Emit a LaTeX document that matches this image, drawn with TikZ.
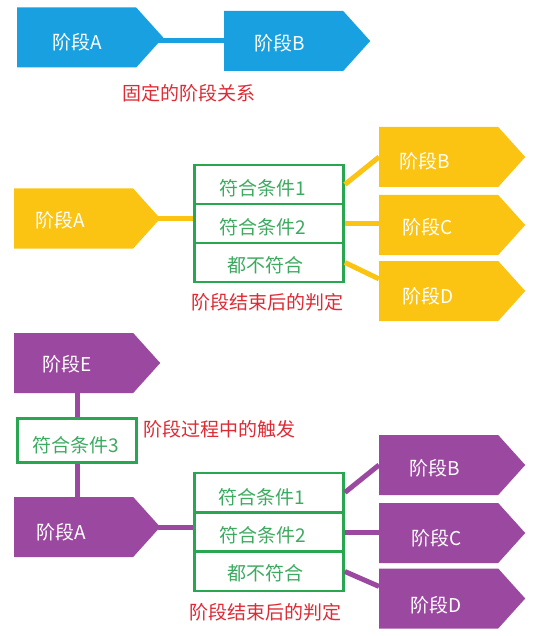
\documentclass[tikz,border=0pt]{standalone}
\usepackage{fontspec}
\setmainfont{Noto Sans CJK SC}
\usetikzlibrary{shapes.symbols,calc}
\definecolor{cblue}{RGB}{24,160,224}
\definecolor{cyellow}{RGB}{251,195,18}
\definecolor{cpurple}{RGB}{155,72,160}
\definecolor{cgreen}{RGB}{40,166,80}
\definecolor{cgreentxt}{RGB}{60,170,95}
\definecolor{cred}{RGB}{222,42,52}
\begin{document}
\begin{tikzpicture}[x=1pt,y=-1pt,
  stage/.style={signal, signal to=east, signal from=nowhere, signal pointer angle=96,
    minimum width=146pt, minimum height=60pt, inner sep=0pt, draw=none, fill=#1, anchor=west},
  stxt/.style={text=white, font=\fontsize{19}{22}\selectfont, inner sep=0pt},
  cond/.style={draw=cgreen, line width=2.7pt, minimum width=149pt, minimum height=39pt, inner sep=0pt},
  ctxt/.style={text=cgreentxt, font=\fontsize{19}{22}\selectfont, inner sep=0pt},
  note/.style={text=cred, font=\fontsize{19}{22}\selectfont, inner sep=0pt},
  link/.style={line width=5pt, draw=#1},
]
\useasboundingbox (0,0) rectangle (544,636);

% ---------- section 1 (blue) ----------
\node[stage=cblue] (bA) at (17,37.5) {};
\node[stage=cblue] (bB) at (224,41) {};
\node[stxt] (bAt) at (77,42) {阶段A};
\node[stxt] (bBt) at (280,43) {阶段B};
\draw[link=cblue] ([xshift=-6pt]bA.east |- bB.west) -- (bB.west);
\node[note] (n1) at (189,93) {固定的阶段关系};

% ---------- section 2 (yellow) ----------
\node[stage=cyellow] (yA) at (14,218.5) {};
\node[stage=cyellow] (yB) at (379,157) {};
\node[stage=cyellow] (yC) at (379,225) {};
\node[stage=cyellow] (yD) at (379,291) {};
\node[stxt] (yAt) at (60,220) {阶段A};
\node[stxt] (yBt) at (425,161) {阶段B};
\node[stxt] (yCt) at (428,227) {阶段C};
\node[stxt] (yDt) at (428,296) {阶段D};
\node[cond] (yr1) at (269,184.5) {};
\node[cond] (yr2) at (269,223.5) {};
\node[cond] (yr3) at (269,262.5) {};
\node[ctxt] (yr1t) at (263,188) {符合条件1};
\node[ctxt] (yr2t) at (263,227) {符合条件2};
\node[ctxt] (yr3t) at (265,265.5) {都不符合};
\draw[link=cyellow] ([xshift=-2pt]yA.east) -- (yA.east -| yr2.west);
\draw[link=cyellow] (yr1.east) -- (yB.west);
\draw[link=cyellow] (yr2.east) -- (yr2.east -| yC.west);
\draw[link=cyellow] (yr3.east) -- ($(yD.north west)!0.3!(yD.south west)$);
\node[note] (n2) at (267,302) {阶段结束后的判定};

% ---------- section 3 (purple) ----------
\node[stage=cpurple] (pE) at (14,363) {};
\node[stage=cpurple] (pA) at (14,527) {};
\node[stage=cpurple] (pB) at (379,465) {};
\node[stage=cpurple] (pC) at (379,533) {};
\node[stage=cpurple] (pD) at (379,598.5) {};
\node[stxt] (pEt) at (67,364) {阶段E};
\node[stxt] (pAt) at (61,532) {阶段A};
\node[stxt] (pBt) at (435,468) {阶段B};
\node[stxt] (pCt) at (437,538) {阶段C};
\node[stxt] (pDt) at (436,605) {阶段D};
\node[cond, minimum width=119pt, minimum height=44.5pt] (c3) at (77,440.5) {};
\node[ctxt] (c3t) at (76,445) {符合条件3};
\draw[link=cpurple] (c3.north) -- (c3.north |- pE.south);
\draw[link=cpurple] (c3.south) -- (c3.south |- pA.north);
\node[note] (n3) at (219.5,429) {阶段过程中的触发};
\node[cond] (pr1) at (269,492.5) {};
\node[cond] (pr2) at (269,532) {};
\node[cond] (pr3) at (269,571.5) {};
\node[ctxt] (pr1t) at (262,497) {符合条件1};
\node[ctxt] (pr2t) at (263,535) {符合条件2};
\node[ctxt] (pr3t) at (265,573.5) {都不符合};
\draw[link=cpurple] ([xshift=-2pt]pA.east) -- (pA.east -| pr2.west);
\draw[link=cpurple] (pr1.east) -- (pB.west);
\draw[link=cpurple] (pr2.east) -- (pr2.east -| pC.west);
\draw[link=cpurple] (pr3.east) -- ($(pD.north west)!0.3!(pD.south west)$);
\node[note] (n4) at (265,612) {阶段结束后的判定};
\end{tikzpicture}
\end{document}
